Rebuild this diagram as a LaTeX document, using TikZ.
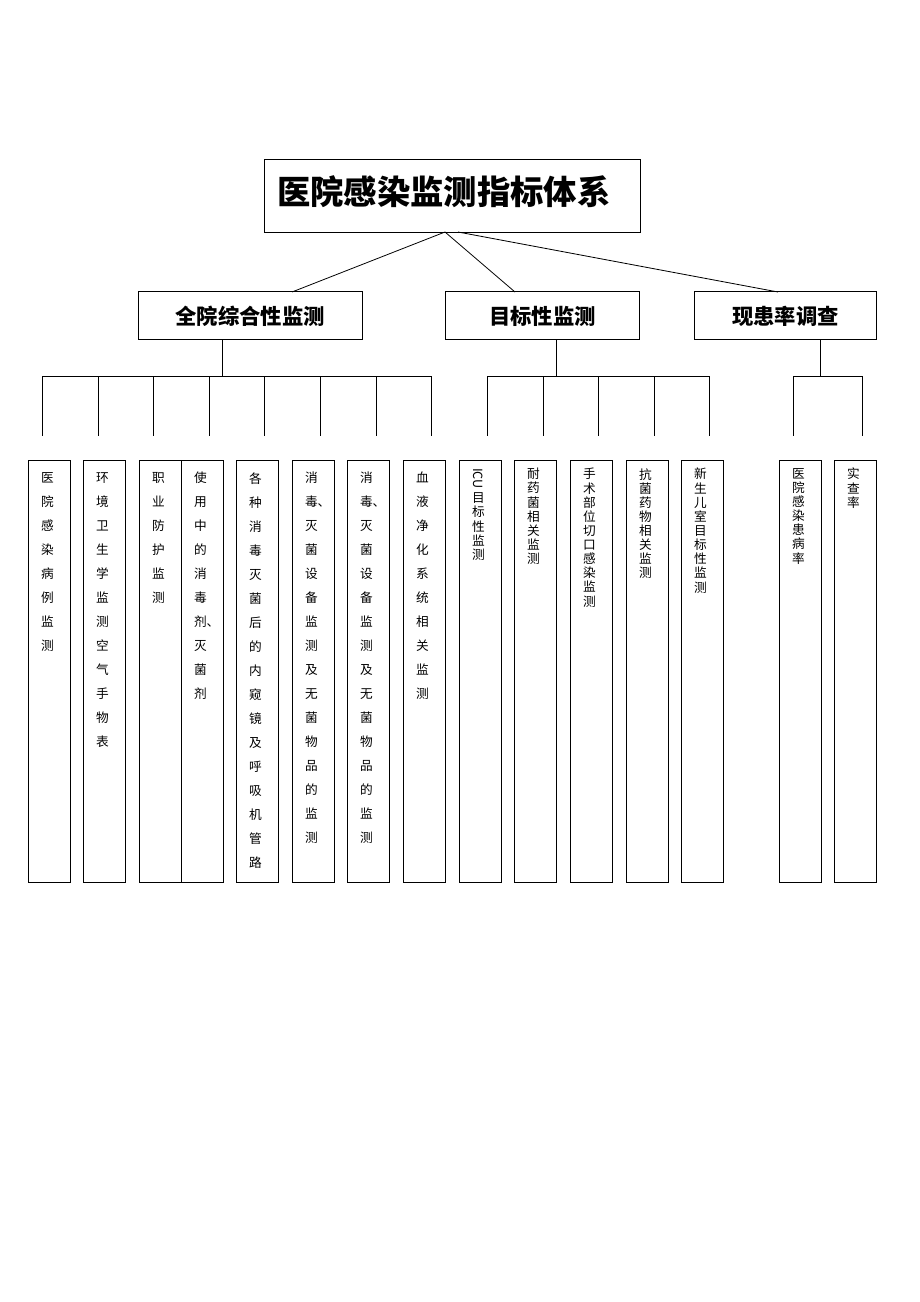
\documentclass[tikz,border=0pt]{standalone}
\usepackage{fontspec}
\newfontfamily\cjk{Noto Sans CJK SC}
\usetikzlibrary{positioning, calc}
\newcommand{\dun}{\makebox[0pt][l]{、}}

\begin{document}
\begin{tikzpicture}[
    x=0.75pt, y=-0.75pt,
    line/.style={draw, line width=0.6pt},
    head/.style={draw, line width=0.6pt, font=\cjk\bfseries\fontsize{16}{18}\selectfont},
    leaf/.style={draw, line width=0.6pt, minimum width=31.5pt, minimum height=316.5pt, anchor=north west, inner sep=0pt},
    wide/.style={font=\cjk\fontsize{9.5}{18}\selectfont, align=center, anchor=north, inner sep=0pt},
    tight/.style={font=\cjk\fontsize{9.5}{10.6}\selectfont, align=center, anchor=north, inner sep=0pt}
]
\useasboundingbox (0,0) rectangle (920,1302);

% title and second level
\node[draw, line width=0.6pt, minimum width=282pt, minimum height=54.75pt] (root) at (452,195.5) {};
\node[anchor=west, inner sep=0pt, font=\cjk\bfseries\fontsize{25}{28}\selectfont] (roottext) at (277,192) {医院感染监测指标体系};
\node[head, minimum width=168pt, minimum height=36pt, text depth=0pt, anchor=south, inner sep=3pt] (whole) at (250,340) {全院综合性监测};
\node[head, minimum width=146pt, minimum height=36pt, text depth=0pt, anchor=south, inner sep=3pt] (target) at (542.5,340) {目标性监测};
\node[head, minimum width=136pt, minimum height=36pt, text depth=0pt, anchor=south, inner sep=3pt] (survey) at (785.5,340) {现患率调查};

\coordinate (w) at (292,292);
\coordinate (t) at (515,292);
\coordinate (s) at (778,292);
\draw[line] (445,232) -- (w);
\draw[line] (445,232) -- (t);
\draw[line] (458,232) -- (s);

% buses
\draw[line] (whole.south -| 222,0) -- (222,376);
\draw[line] (42,376) -- (431,376);
\foreach \x in {42,98,153,209,264,320,376,431}
    \draw[line] (\x,376) -- (\x,436);
\draw[line] (target.south -| 556,0) -- (556,376);
\draw[line] (487,376) -- (709,376);
\foreach \x in {487,543,598,654,709}
    \draw[line] (\x,376) -- (\x,436);
\draw[line] (survey.south -| 820,0) -- (820,376);
\draw[line] (793,376) -- (862,376);
\foreach \x in {793,862}
    \draw[line] (\x,376) -- (\x,436);

% leaves
\foreach \x/\n in {28/a,83/b,139/c,181/d,236/e,292/f,347/g,403/h,459/i,514/j,570/k,626/l,681/m,779/n,834/o}
    \node[leaf] (\n) at (\x,460) {};

\node[wide] at ($(a.north)+(-2,12)$) {医\\院\\感\\染\\病\\例\\监\\测};
\node[wide] at ($(b.north)+(-2,12)$) {环\\境\\卫\\生\\学\\监\\测\\空\\气\\手\\物\\表};
\node[wide] at ($(c.north)+(-2,12)$) {职\\业\\防\\护\\监\\测};
\node[wide] at ($(d.north)+(-2,12)$) {使\\用\\中\\的\\消\\毒\\剂\dun\\灭\\菌\\剂};
\node[wide] at ($(e.north)+(-2,12)$) {各\\种\\消\\毒\\灭\\菌\\后\\的\\内\\窥\\镜\\及\\呼\\吸\\机\\管\\路};
\node[wide] at ($(f.north)+(-2,12)$) {消\\毒\dun\\灭\\菌\\设\\备\\监\\测\\及\\无\\菌\\物\\品\\的\\监\\测};
\node[wide] at ($(g.north)+(-2,12)$) {消\\毒\dun\\灭\\菌\\设\\备\\监\\测\\及\\无\\菌\\物\\品\\的\\监\\测};
\node[wide] at ($(h.north)+(-2,12)$) {血\\液\\净\\化\\系\\统\\相\\关\\监\\测};

\node[tight] at ($(i.north)+(-2,8)$) {\rotatebox{-90}{ICU}\\[2pt]目\\标\\性\\监\\测};
\node[tight] at ($(j.north)+(-2,8)$) {耐\\药\\菌\\相\\关\\监\\测};
\node[tight] at ($(k.north)+(-2,8)$) {手\\术\\部\\位\\切\\口\\感\\染\\监\\测};
\node[tight] at ($(l.north)+(-2,8)$) {抗\\菌\\药\\物\\相\\关\\监\\测};
\node[tight] at ($(m.north)+(-2,8)$) {新\\生\\儿\\室\\目\\标\\性\\监\\测};
\node[tight] at ($(n.north)+(-2,8)$) {医\\院\\感\\染\\患\\病\\率};
\node[tight] at ($(o.north)+(-2,8)$) {实\\查\\率};
\end{tikzpicture}
\end{document}
